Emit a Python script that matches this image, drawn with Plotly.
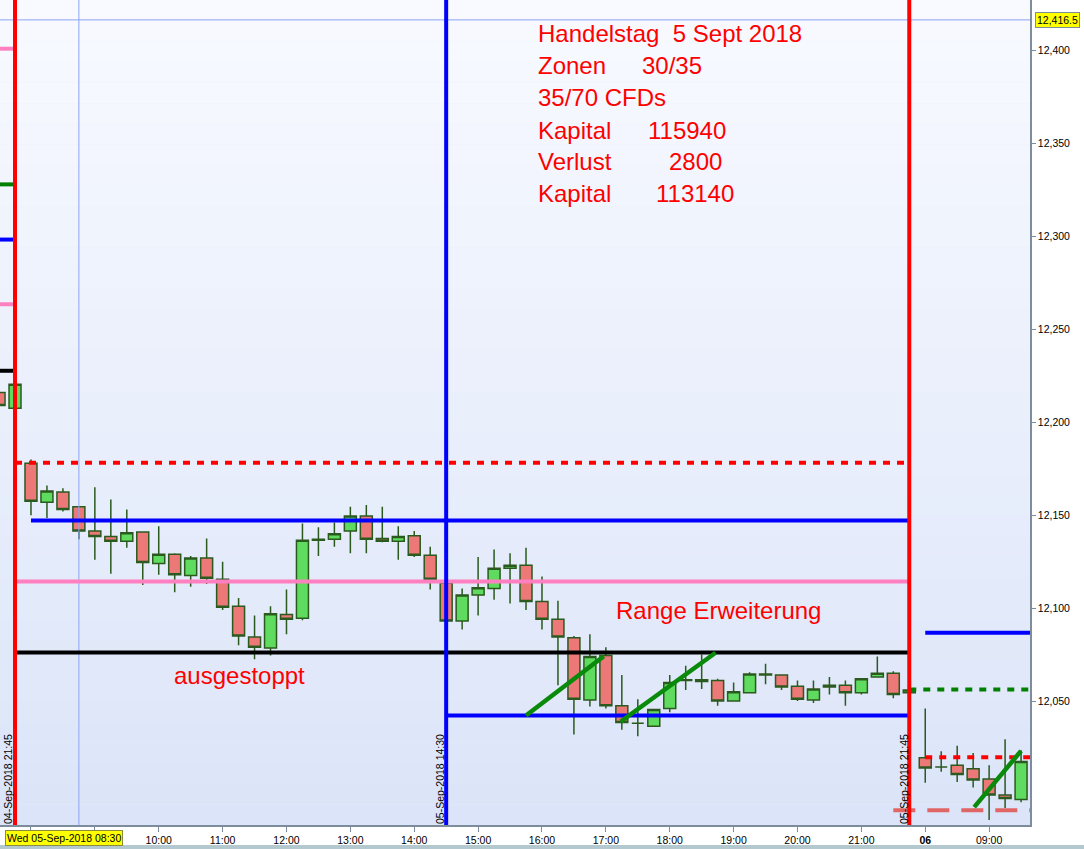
import plotly.graph_objects as go

# ---------------- data ----------------
times = (["2018-09-04 21:30", "2018-09-04 21:45"]
         + [f"2018-09-05 {h:02d}:{m:02d}" for h in range(8, 22) for m in (0, 15, 30, 45)]
         + ["2018-09-06 08:00", "2018-09-06 08:15", "2018-09-06 08:30", "2018-09-06 08:45",
            "2018-09-06 09:00", "2018-09-06 09:15", "2018-09-06 09:30"])

opens = [12216, 12207.5,
         12178, 12157, 12162.5, 12154.5, 12141.5, 12138.5, 12136, 12141,
         12124, 12129, 12117.5, 12127, 12115.5, 12101, 12084.5, 12078.5,
         12096.5, 12094.5, 12136.5, 12137, 12141.5, 12149.5, 12137.5, 12136,
         12139, 12128.5, 12113.5, 12093, 12107, 12110.5, 12121.5, 12123,
         12103.5, 12094, 12084, 12050.5, 12074.5, 12047.5, 12038, 12036.5,
         12046, 12061, 12061.5, 12061, 12050, 12054.5, 12064, 12064,
         12058, 12050.5, 12057.5, 12058.5, 12054.5, 12063, 12065, 12054.5,
         12019.5, 12014.5, 12015.5, 12013.5, 12008, 11999.5, 11997]
highs = [12218, 12221,
         12180, 12166, 12164.5, 12155, 12165, 12158.5, 12153, 12141,
         12144, 12129.5, 12128, 12137.5, 12125, 12105.5, 12096, 12101,
         12110, 12145.5, 12143.5, 12146, 12154.5, 12155.5, 12154.5, 12144,
         12141.5, 12133, 12114, 12110.5, 12127.5, 12131.5, 12129.5, 12132.5,
         12117, 12104, 12085, 12086, 12079, 12064, 12051, 12045.5,
         12064, 12069, 12075, 12062, 12060, 12065.5, 12070, 12064,
         12061, 12061, 12063, 12061, 12062, 12074, 12066, 12056,
         12046, 12023, 12026, 12022, 12015.5, 12029.5, 12023.5]
lows = [12207, 12207,
        12150, 12148.5, 12152, 12137, 12126, 12118.5, 12132.5, 12112.5,
        12118, 12108.5, 12111.5, 12113, 12099, 12080, 12072.5, 12074.5,
        12086, 12093.5, 12128, 12133, 12129.5, 12129.5, 12135.5, 12126,
        12127.5, 12110, 12092.5, 12088.5, 12096, 12104.5, 12102.5, 12099,
        12088.5, 12058.5, 12032, 12047, 12046, 12034.5, 12031, 12036,
        12044, 12056, 12056.5, 12047.5, 12050, 12054.5, 12059, 12056,
        12050, 12049, 12053.5, 12047.5, 12053.5, 12063, 12051.5, 12054.5,
        12006, 12012, 12006.5, 12003.5, 11986, 11992.5, 11995.5]
closes = [12209, 12220.5,
          12157.5, 12163, 12153, 12141.5, 12138.5, 12136, 12140.5, 12124.5,
          12129, 12118, 12127, 12116, 12100.5, 12085, 12079, 12097,
          12094, 12136.5, 12137, 12140, 12149.5, 12137, 12136, 12138.5,
          12128.5, 12115.5, 12093, 12107, 12111, 12121.5, 12123, 12103.5,
          12094, 12084.5, 12051, 12074, 12047.5, 12038.5, 12038, 12045.5,
          12060, 12061.5, 12060.5, 12050, 12055, 12064.5, 12064.5, 12057.5,
          12051, 12056.5, 12058.5, 12054.5, 12062, 12065, 12053.5, 12056,
          12014, 12014.5, 12010.5, 12007.5, 11999.5, 11997.5, 12017.5]

# price levels (Sept 5 session)
lvl_red_dash = 12178.2
lvl_blue_top = 12147.2
lvl_pink = 12114.3
lvl_black = 12076.1
lvl_blue_low = 12042.2
# price levels (Sept 6 session)
lvl6_blue = 12086.7
lvl6_green_dash = 12056.2
lvl6_red_dash = 12019.8
lvl6_salmon_dash = 11991.3
# previous day levels (left margin)
prev_levels = [(12401, "#ff80c0"), (12328, "#008000"), (12298.3, "#0000ff"),
               (12263.5, "#ff80c0"), (12227.7, "#000000")]
# trend lines (time, price)
trend_lines = [
    (("2018-09-05 15:45", 12042.2), ("2018-09-05 16:58", 12074.1)),
    (("2018-09-05 17:14", 12039.0), ("2018-09-05 18:43", 12076.0)),
    (("2018-09-06 08:46", 11992.9), ("2018-09-06 09:30", 12023.2)),
]
crosshair_price = 12416.5
crosshair_time = "2018-09-05 08:45"

tick_vals = ["2018-09-05 08:00", "2018-09-05 09:00", "2018-09-05 10:00", "2018-09-05 11:00",
             "2018-09-05 12:00", "2018-09-05 13:00", "2018-09-05 14:00", "2018-09-05 15:00",
             "2018-09-05 16:00", "2018-09-05 17:00", "2018-09-05 18:00", "2018-09-05 19:00",
             "2018-09-05 20:00", "2018-09-05 21:00", "2018-09-06 08:00", "2018-09-06 09:00"]
tick_text = ["", "", "10:00", "11:00", "12:00", "13:00", "14:00", "15:00", "16:00",
             "17:00", "18:00", "19:00", "20:00", "21:00", "<b>06</b>", "09:00"]
y_ticks = [12050, 12100, 12150, 12200, 12250, 12300, 12350, 12400]

x_start = "2018-09-04 21:30:54"
x_end = "2018-09-06 09:38:24"
y_range = [11983.3, 12427.2]

PW, PH = 1030.0, 825.0

fig = go.Figure(go.Candlestick(
    x=times, open=opens, high=highs, low=lows, close=closes,
    increasing=dict(fillcolor="#5fdc5f", line=dict(color="#2b5a1f", width=1.5)),
    decreasing=dict(fillcolor="#ec7878", line=dict(color="#2b5a1f", width=1.5)),
    whiskerwidth=0, showlegend=False, hoverinfo="skip"))

shapes = []
# gradient background
N = 40
top = (248, 250, 255)
bot = (219, 228, 248)
for i in range(N):
    f = (i + 0.5) / N
    c = tuple(round(top[k] + (bot[k] - top[k]) * f) for k in range(3))
    shapes.append(dict(type="rect", xref="paper", yref="paper", x0=0, x1=1,
                       y0=1 - (i + 1) / N, y1=1 - i / N, line_width=0,
                       fillcolor=f"rgb{c}", layer="below"))

def hline(y, x0, x1, color, width=4, dash="solid"):
    shapes.append(dict(type="line", xref="x", yref="y", x0=x0, x1=x1, y0=y, y1=y,
                       line=dict(color=color, width=width, dash=dash)))

def vline(x, color, width=4):
    shapes.append(dict(type="line", xref="x", yref="paper", x0=x, x1=x, y0=0, y1=1,
                       line=dict(color=color, width=width)))

# crosshair
shapes.append(dict(type="line", xref="paper", yref="y", x0=0, x1=1, y0=crosshair_price,
                   y1=crosshair_price, line=dict(color="#8ea4f4", width=1)))
vline(crosshair_time, "#8ea4f4", 1)

# previous-day level stubs
for lv, col in prev_levels:
    hline(lv, x_start, "2018-09-04 21:45", col, 4)

# Sept 5 levels
hline(lvl_red_dash, "2018-09-04 21:45", "2018-09-05 21:45", "#ff0000", 4, "7px,7px")
hline(lvl_pink, "2018-09-04 21:45", "2018-09-05 21:45", "#ff80c0", 4)
hline(lvl_black, "2018-09-04 21:45", "2018-09-05 21:45", "#000000", 4)
hline(lvl_blue_top, "2018-09-05 08:00", "2018-09-05 21:45", "#0000ff", 4)
hline(lvl_blue_low, "2018-09-05 14:30", "2018-09-05 21:45", "#0000ff", 4)
# Sept 6 levels
hline(lvl6_blue, "2018-09-06 08:00", x_end, "#0000ff", 4)
hline(lvl6_green_dash, "2018-09-05 21:45", x_end, "#008000", 4, "7px,7px")
hline(lvl6_red_dash, "2018-09-06 08:00", x_end, "#ff0000", 4, "7px,7px")
hline(lvl6_salmon_dash, "2018-09-05 21:30", x_end, "#e06666", 4, "22px,12px")

# vertical session lines
vline("2018-09-04 21:45", "#ff0000", 4)
vline("2018-09-05 14:30", "#0000ff", 4)
vline("2018-09-05 21:45", "#ff0000", 4)

# trend lines
for (t0, p0), (t1, p1) in trend_lines:
    shapes.append(dict(type="line", xref="x", yref="y", x0=t0, y0=p0, x1=t1, y1=p1,
                       line=dict(color="#0a8a0a", width=4.5)))

# bottom strip
shapes.append(dict(type="rect", xref="paper", yref="paper", x0=-0.01, x1=1.1,
                   y0=-(849 - PH) / PH, y1=-(845 - PH) / PH, line_width=0,
                   fillcolor="#b4c8d0", layer="above"))

annotations = []

def txt(s, px, py, size=24, color="#ff0000", xanchor="left"):
    annotations.append(dict(text=s, x=px / PW, y=1 - py / PH, xref="paper", yref="paper",
                            xanchor=xanchor, yanchor="middle", showarrow=False,
                            font=dict(size=size, color=color, family="Liberation Sans, Arial")))

txt("Handelstag  5 Sept 2018", 536, 33)
txt("Zonen", 536, 66)
txt("30/35", 640, 66)
txt("35/70 CFDs", 536, 98)
txt("Kapital", 536, 130)
txt("115940", 646, 130)
txt("Verlust", 536, 162)
txt("2800", 667, 162)
txt("Kapital", 536, 194)
txt("113140", 654, 194)
txt("Range Erweiterung", 614, 610)
txt("ausgestoppt", 172, 675)

# rotated session labels
for s, px in [("04-Sep-2018 21:45", 8), ("05-Sep-2018 14:30", 440), ("05-Sep-2018 21:45", 904)]:
    annotations.append(dict(text=s, x=px / PW, y=1 - 826 / PH, xref="paper", yref="paper",
                            xanchor="center", yanchor="bottom", textangle=-90, showarrow=False,
                            font=dict(size=10.5, color="black", family="Liberation Sans, Arial")))

# crosshair labels
annotations.append(dict(text="Wed 05-Sep-2018 08:30", x=64 / PW, y=-(837.5 - PH) / PH,
                        xref="paper", yref="paper", xanchor="center", yanchor="middle",
                        showarrow=False, bgcolor="#ffff00", bordercolor="#8a8a40", borderwidth=1,
                        borderpad=1,
                        font=dict(size=10.5, color="black", family="Liberation Sans, Arial")))
annotations.append(dict(text="12,416.5", x=1057 / PW, y=crosshair_price, xref="paper", yref="y",
                        xanchor="center", yanchor="middle", showarrow=False, bgcolor="#ffff00",
                        bordercolor="#7d8d9d", borderwidth=1, borderpad=1,
                        font=dict(size=10.5, color="black", family="Liberation Sans, Arial")))

fig.update_layout(
    width=1084, height=849, margin=dict(l=0, r=54, t=0, b=24, pad=0),
    paper_bgcolor="white", plot_bgcolor="#e8eefb",
    boxgap=0.25, boxgroupgap=0, showlegend=False,
    font=dict(family="Liberation Sans, Arial", size=11, color="black"),
    shapes=shapes, annotations=annotations,
)
fig.update_xaxes(type="date", range=[x_start, x_end],
                 rangebreaks=[dict(bounds=[22, 8], pattern="hour")],
                 rangeslider_visible=False, tickmode="array", tickvals=tick_vals,
                 ticktext=tick_text, ticks="outside", ticklen=5, tickcolor="#7d8d9d",
                 showgrid=False, showline=True, linecolor="#7d8d9d", linewidth=1.5,
                 zeroline=False, tickfont=dict(size=10.5, color="black"))
fig.update_yaxes(side="right", range=y_range, tickmode="array", tickvals=y_ticks,
                 tickformat=",d", ticks="outside", ticklen=4, tickcolor="#7d8d9d",
                 showgrid=False, showline=True, linecolor="#7d8d9d", linewidth=1.5,
                 zeroline=False, tickfont=dict(size=10.5, color="black"))

fig.write_html("out.html", config={"displayModeBar": False},
               post_script="document.body.style.margin='0';document.body.style.overflow='hidden';")
